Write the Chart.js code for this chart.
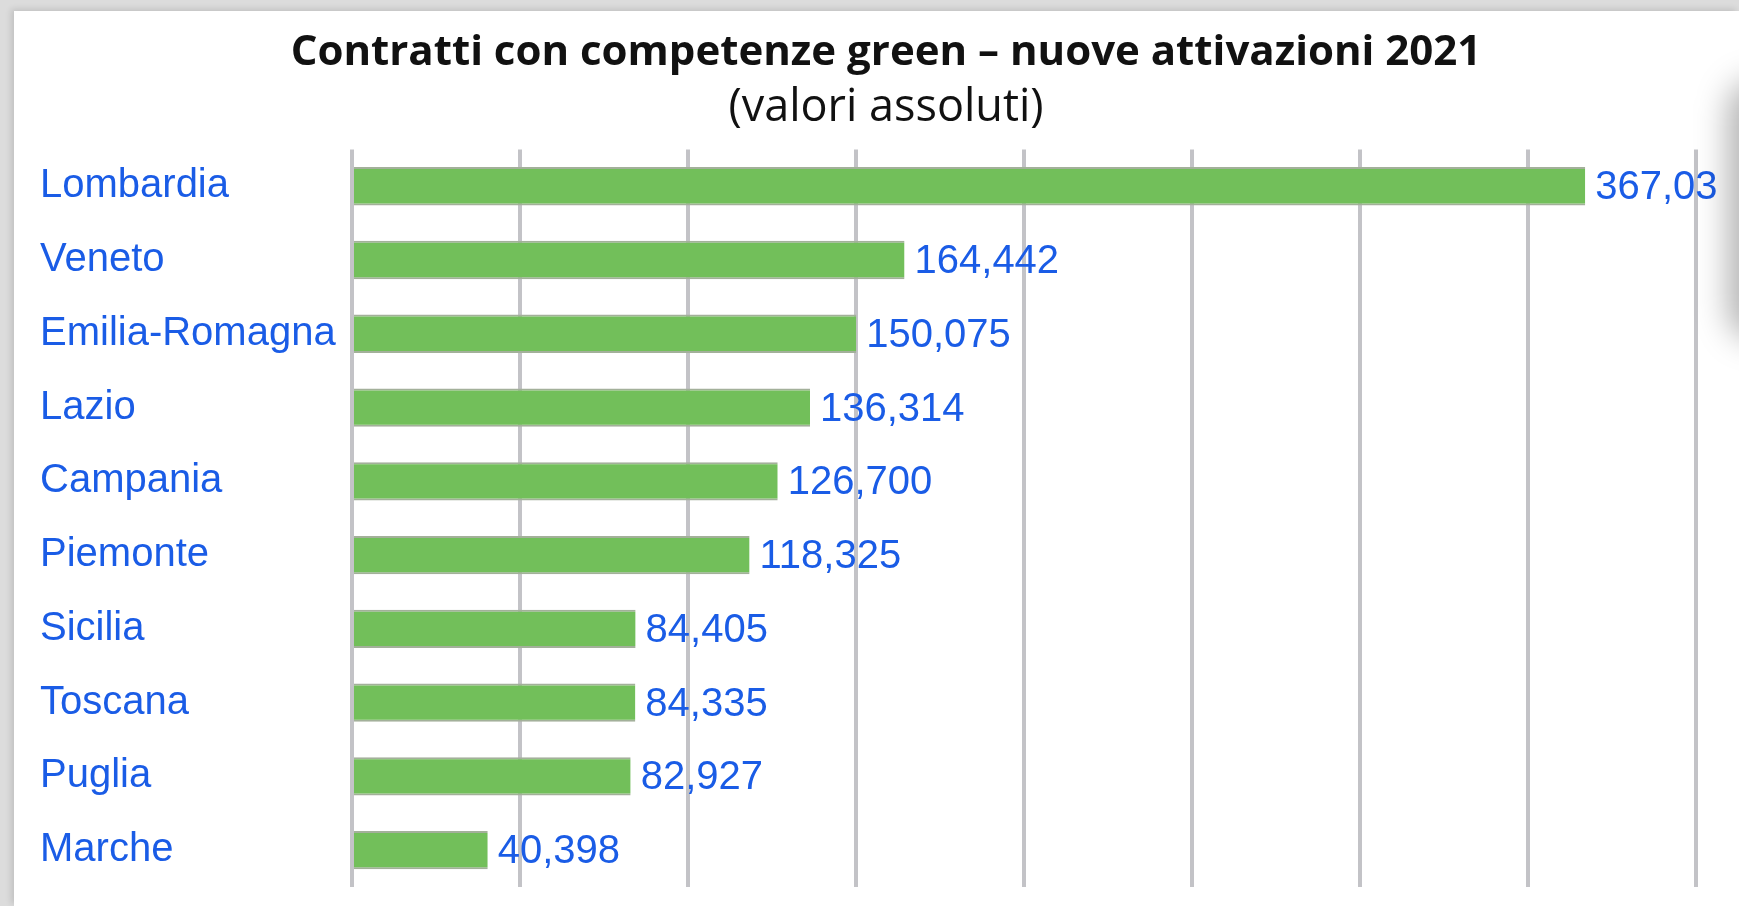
<!DOCTYPE html>
<html>
<head>
<meta charset="utf-8">
<script src="https://cdn.jsdelivr.net/npm/chart.js@4/dist/chart.umd.min.js"></script>
<style>
  html, body { margin: 0; padding: 0; }
  body { width: 1739px; height: 906px; background: #dcdcdc; position: relative; overflow: hidden; }
  #panel {
    position: absolute; left: 14px; top: 11px; width: 1725px; height: 895px;
    background: #ffffff; box-shadow: -3px -2px 6px rgba(0,0,0,0.12);
  }
  #shade {
    position: absolute; left: 1728px; top: 80px; width: 60px; height: 260px;
    background: rgba(0,0,0,0.3); border-radius: 30px; filter: blur(16px);
    pointer-events: none;
  }
  #chart-box { position: absolute; left: 0; top: 0; width: 1725px; height: 895px; }
</style>
</head>
<body>
<div id="panel">
  <div id="chart-box"><canvas id="green-chart"></canvas></div>
</div>
<div id="shade"></div>
<script>
// Regions and new green-skill contracts (2021)
const regions = ["Lombardia", "Veneto", "Emilia-Romagna", "Lazio", "Campania",
  "Piemonte", "Sicilia", "Toscana", "Puglia", "Marche"];
const contracts = [367035, 164442, 150075, 136314, 126700, 118325, 84405, 84335, 82927, 40398];

// x axis grid: 0 .. 400,000 every 50,000
const axisMin = 0;
const axisMax = 400000;
const axisStep = 50000;

const labelBlue = "#1a5ce6";

// Plugin to write the values next to the bars
const valueLabels = {
  id: "valueLabels",
  afterDatasetsDraw(chart) {
    const ctx = chart.ctx;
    const meta = chart.getDatasetMeta(0);
    ctx.save();
    // the original picture is cut just past the last gridline
    ctx.beginPath();
    ctx.rect(0, 0, chart.chartArea.right + 22, chart.height);
    ctx.clip();
    ctx.font = "40px 'Liberation Sans', Arial, sans-serif";
    ctx.fillStyle = labelBlue;
    ctx.textAlign = "left";
    ctx.textBaseline = "middle";
    meta.data.forEach((bar, i) => {
      ctx.fillText(contracts[i].toLocaleString("en-US"), bar.x + 10, bar.y + 2);
    });
    ctx.restore();
  },
};

const ctx = document.getElementById("green-chart").getContext("2d");
new Chart(ctx, {
  type: "bar",
  data: {
    labels: regions,
    datasets: [
      {
        data: contracts,
        backgroundColor: "#72bf5a",
        borderColor: "#a3b09a",
        borderWidth: { top: 2, bottom: 2, right: 0, left: 0 },
        borderSkipped: false,
        barPercentage: 0.52,
        categoryPercentage: 1,
      },
    ],
  },
  options: {
    indexAxis: "y",
    responsive: true,
    maintainAspectRatio: false,
    animation: false,
    layout: { padding: { left: 26, right: 7, top: 0, bottom: 19 } },
    plugins: {
      legend: { display: false },
      tooltip: { enabled: false },
      title: {
        display: true,
        text: "Contratti con competenze green – nuove attivazioni 2021",
        color: "#111111",
        font: { family: "'Open Sans', sans-serif", size: 42, weight: "bold", lineHeight: 1.2 },
        padding: { top: 17, bottom: 0 },
      },
      subtitle: {
        display: true,
        text: "(valori assoluti)",
        color: "#111111",
        font: { family: "'Open Sans', sans-serif", size: 45, weight: "normal", lineHeight: 1.2 },
        padding: { top: 3, bottom: 14 },
      },
    },
    scales: {
      x: {
        min: axisMin,
        max: axisMax,
        ticks: { display: false, stepSize: axisStep },
        grid: { color: "#c3c3c7", lineWidth: 4, drawTicks: false },
        border: { display: false },
        afterFit(scale) {
          scale.height = 0;
        },
      },
      y: {
        ticks: {
          color: labelBlue,
          crossAlign: "far",
          font: { family: "'Liberation Sans', Arial, sans-serif", size: 40 },
        },
        grid: { display: false },
        border: { display: false },
        afterFit(scale) {
          scale.width = 312;
          // don't let the first/last label push the plot area inwards
          scale.paddingTop = 0;
          scale.paddingBottom = 0;
        },
      },
      // empty right-hand axis, only keeps space free for the last value label
      yRight: {
        type: "category",
        position: "right",
        ticks: { display: false },
        grid: { display: false },
        border: { display: false },
        afterFit(scale) {
          scale.width = 36;
        },
      },
    },
  },
  plugins: [valueLabels],
});
</script>
</body>
</html>
